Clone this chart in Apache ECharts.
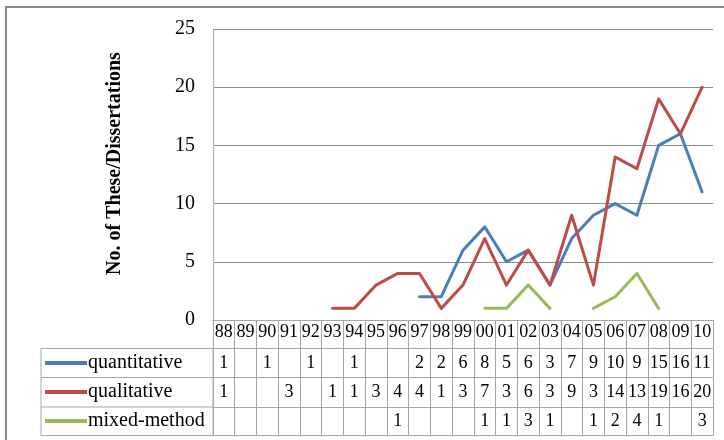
<!DOCTYPE html>
<html>
<head>
<meta charset="utf-8">
<script src="https://cdn.jsdelivr.net/npm/echarts@6/dist/echarts.min.js"></script>
<style>
html,body{margin:0;padding:0;background:#fff;}
#chart{width:724px;height:440px;}
</style>
</head>
<body>
<div id="chart"></div>
<script>
// ---- data ----
const categories = ['88','89','90','91','92','93','94','95','96','97','98','99','00','01','02','03','04','05','06','07','08','09','10'];
const quantitative = [1,null,1,null,1,null,1,null,null,2,2,6,8,5,6,3,7,9,10,9,15,16,11];
const qualitative  = [1,null,null,3,null,1,1,3,4,4,1,3,7,3,6,3,9,3,14,13,19,16,20];
const mixedMethod  = [null,null,null,null,null,null,null,null,1,null,null,null,1,1,3,1,null,1,2,4,1,null,3];
const seriesNames = ['quantitative','qualitative','mixed-method'];
const yTicks = [0,5,10,15,20,25];

// ---- layout ----
const FONT = '"Liberation Serif", "Times New Roman", serif';
const W = 724, H = 440;
const gridLeft = 213, gridRight = 713, gridTop = 29, gridBottomY = 320;
const rowEdges = [320, 348.5, 377.5, 407, 435.5]; // table row boundaries
const tableLeft = 41;
const borderColor = '#a6a6a6';

const chart = echarts.init(document.getElementById('chart'), null, {renderer:'canvas'});

function rowAxis(idx, arr, offset, isHeader){
  return {
    type:'category', data:categories, gridIndex:0, position:'bottom',
    offset: offset, boundaryGap:true,
    axisLine:{show:true, lineStyle:{color:borderColor, width:1}},
    axisTick:{show: arr !== undefined, length: (rowEdges[idx+1]||0) - rowEdges[idx], interval:0, lineStyle:{color:borderColor, width:1}},
    axisLabel:{
      show: arr !== undefined, interval:0, hideOverlap:false,
      fontFamily:FONT, fontSize:18, color:'#000',
      verticalAlign:'middle',
      margin: isHeader ? 12 : ((rowEdges[idx+1]||0) - rowEdges[idx]) / 2,
      formatter: function(v, i){
        if (isHeader) return v;
        const d = arr[i];
        return (d === null || d === undefined) ? '' : String(d);
      }
    },
    splitLine:{show:false}
  };
}

const xAxes = [
  rowAxis(0, categories, 0, true),
  rowAxis(1, quantitative, rowEdges[1]-rowEdges[0], false),
  rowAxis(2, qualitative, rowEdges[2]-rowEdges[0], false),
  rowAxis(3, mixedMethod, rowEdges[3]-rowEdges[0], false),
  rowAxis(4, undefined, rowEdges[4]-rowEdges[0], false)
];

const colors = ['#4A7EBB','#BE4B48','#98B954'];
const dataSets = [quantitative, qualitative, mixedMethod];

const graphics = [
  {type:'rect', shape:{x:6, y:7, width:W+20, height:H+20}, style:{fill:'none', stroke:'#8a8a8a', lineWidth:2}, silent:true},
  {type:'line', shape:{x1:tableLeft, y1:rowEdges[1], x2:tableLeft, y2:rowEdges[4]}, style:{stroke:borderColor, lineWidth:1}, silent:true}
];
for (let r = 1; r < rowEdges.length; r++){
  graphics.push({type:'line', shape:{x1:tableLeft, y1:rowEdges[r], x2:gridLeft, y2:rowEdges[r]}, style:{stroke:borderColor, lineWidth:1}, silent:true});
}
graphics.push({type:'line', shape:{x1:gridLeft, y1:rowEdges[1], x2:gridLeft, y2:rowEdges[4]}, style:{stroke:borderColor, lineWidth:1}, silent:true});

const option = {
  animation:false,
  backgroundColor:'#fff',
  color: colors,
  grid:{left:gridLeft, right:W-gridRight, top:gridTop, bottom:H-gridBottomY, containLabel:false},
  legend:{
    orient:'vertical', left:tableLeft+4, top:rowEdges[1], itemGap:0, padding:0,
    height: rowEdges[4]-rowEdges[1],
    itemWidth:42, itemHeight:14, selectedMode:false,
    data: seriesNames.map((n,i)=>({name:n, icon:'path://M0,0L10,0L10,1L0,1Z', itemStyle:{color:colors[i]}})),
    textStyle:{fontFamily:FONT, fontSize:20, color:'#000', lineHeight:29, padding:[0,0,0,-4]}
  },
  xAxis: xAxes,
  yAxis:{
    type:'value', min:yTicks[0], max:yTicks[yTicks.length-1], interval:5,
    name:'No. of These/Dissertations', nameLocation:'middle', nameRotate:90, nameGap:88,
    nameTextStyle:{fontFamily:FONT, fontSize:20, fontWeight:'bold', color:'#000', padding:[0,0,0,22]},
    axisLine:{show:true, lineStyle:{color:'#b0b0b0', width:1}},
    axisTick:{show:false},
    axisLabel:{fontFamily:FONT, fontSize:20, color:'#000', margin:18},
    splitLine:{show:true, lineStyle:{color:'#8c8c8c', width:1}}
  },
  series: seriesNames.map((n,i)=>({
    name:n, type:'line', xAxisIndex:0, data:dataSets[i],
    symbol:'none', showSymbol:false, connectNulls:false,
    lineStyle:{width:3, color:colors[i], cap:'round', join:'round'},
    itemStyle:{color:colors[i]}
  })),
  graphic: graphics
};
chart.setOption(option);
</script>
</body>
</html>
